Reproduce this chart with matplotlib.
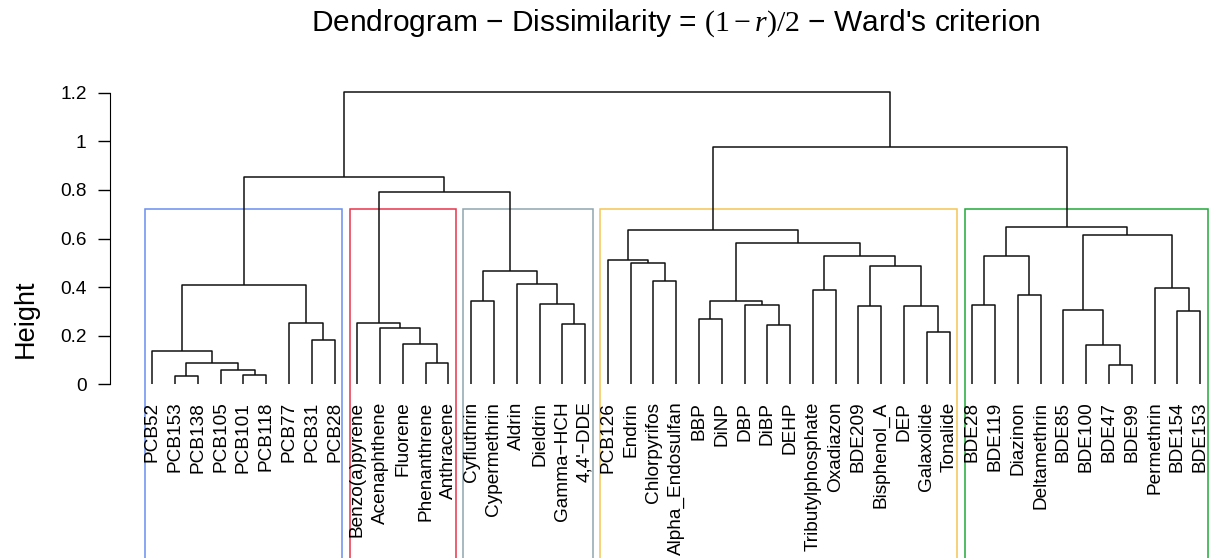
import matplotlib
matplotlib.use("Agg")
import matplotlib.pyplot as plt
from matplotlib.patches import Rectangle

plt.rcParams['font.family'] = ['Liberation Sans', 'DejaVu Sans']
plt.rcParams['mathtext.fontset'] = 'custom'
plt.rcParams['mathtext.rm'] = 'Liberation Serif'
plt.rcParams['mathtext.it'] = 'Liberation Serif:italic'

# leaf labels, left to right
labels = ["PCB52", "PCB153", "PCB138", "PCB105", "PCB101", "PCB118", "PCB77", "PCB31", "PCB28",
          "Benzo(a)pyrene", "Acenaphthene", "Fluorene", "Phenanthrene", "Anthracene",
          "Cyfluthrin", "Cypermethrin", "Aldrin", "Dieldrin", "Gamma\u2212HCH", "4,4'\u2212DDE",
          "PCB126", "Endrin", "Chlorpyrifos", "Alpha_Endosulfan", "BBP", "DiNP", "DBP", "DiBP",
          "DEHP", "Tributylphosphate", "Oxadiazon", "BDE209", "Bisphenol_A", "DEP",
          "Galaxolide", "Tonalide",
          "BDE28", "BDE119", "Diazinon", "Deltamethrin", "BDE85", "BDE100", "BDE47", "BDE99",
          "Permethrin", "BDE154", "BDE153"]

# R-style merge table: negative = leaf (1-based), positive = earlier merge (1-based)
merge_left = [-2, -5, -4, 1, -1, -8, -7, 5,
              -13, -12, -11, -10,
              -15, -19, -18, -17, 13, 12, 8,
              -23, -22, -21, -25, -28, -27, 23, -30, -32, -35, -34, 28, 27, 26, 22,
              -37, -39, 35, -43, -42, -41, -46, -45, 40, 37, 34, 19]
merge_right = [-3, -6, 2, 3, 4, -9, 6, 7,
               -14, 9, 10, 11,
               -16, -20, 14, 15, 16, 17, 18,
               -24, 20, 21, -26, -29, 24, 25, -31, -33, -36, 29, 30, 31, 32, 33,
               -38, -40, 36, -44, 38, 39, -47, 41, 42, 43, 44, 45]
merge_height = [0.034, 0.040, 0.057, 0.088, 0.137, 0.181, 0.252, 0.409,
                0.088, 0.167, 0.230, 0.252,
                0.343, 0.248, 0.329, 0.414, 0.468, 0.793, 0.852,
                0.424, 0.499, 0.511, 0.270, 0.243, 0.328, 0.343, 0.387, 0.324, 0.217,
                0.324, 0.488, 0.529, 0.583, 0.636,
                0.328, 0.369, 0.529, 0.078, 0.163, 0.307, 0.302, 0.395, 0.616, 0.647,
                0.977, 1.204]

# clusters cut at k=5: last leaf of each group and border colours
group_ends = [9, 14, 20, 36, 47]
group_colors = ["#6A8EF0", "#E8344A", "#8FA5AE", "#F5C555", "#22A83A"]
cut_height = (0.793 + 0.647) / 2

fig = plt.figure(figsize=(12.1, 5.58), dpi=100)
ax = fig.add_axes([110.4 / 1210, 162 / 558, (1242 - 110.4) / 1210, (396 - 80.1) / 558])

n = len(labels)
node_x = {}
node_h = {}


def pos(ref):
    if ref < 0:
        return -ref, 0.0
    return node_x[ref], node_h[ref]


for k in range(len(merge_height)):
    h = merge_height[k]
    xl, hl = pos(merge_left[k])
    xr, hr = pos(merge_right[k])
    ax.plot([xl, xl, xr, xr], [hl, h, h, hr], color="#111111", lw=1.1, solid_capstyle="butt")
    node_x[k + 1] = (xl + xr) / 2
    node_h[k + 1] = h

start = 0
for end, col in zip(group_ends, group_colors):
    ax.add_patch(Rectangle((start + 0.66, -2), end + 0.33 - (start + 0.66), cut_height + 2,
                           fill=False, edgecolor=col, lw=1.1, clip_on=False))
    start = end

for i, lab in enumerate(labels):
    ax.text(i + 1, -0.0716, lab, rotation=90, ha="center", va="top", fontsize=13.7)

ax.set_xlim(1 - 0.04 * (n - 1), n + 0.04 * (n - 1))
ax.set_ylim(-0.048, 1.252)
for s in ["top", "right", "bottom"]:
    ax.spines[s].set_visible(False)
ax.spines["left"].set_bounds(0, 1.2)
ax.set_xticks([])
ax.set_yticks([0, 0.2, 0.4, 0.6, 0.8, 1.0, 1.2])
ax.set_yticklabels(["0", "0.2", "0.4", "0.6", "0.8", "1", "1.2"])
ax.tick_params(axis="y", length=8.6, width=1.0, pad=8.6, labelsize=13.7)

fig.text(26 / 1210, 1 - 319 / 558, "Height", rotation=90, ha="center", va="center", fontsize=19.5)
fig.text(676 / 1210, 1 - 23 / 558,
         "Dendrogram \u2212 Dissimilarity = $(1-r)/2$ \u2212 Ward's criterion",
         ha="center", va="center", fontsize=21.5)

fig.savefig("out.png", dpi=100)
